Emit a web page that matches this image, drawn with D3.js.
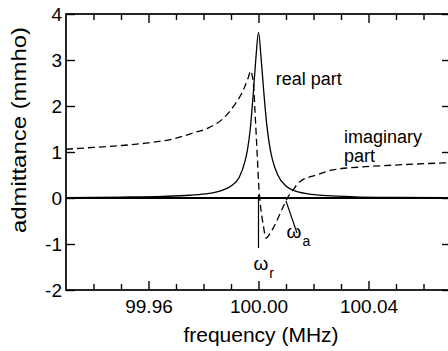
<!DOCTYPE html>
<html>
<head>
<meta charset="utf-8">
<script src="https://cdn.jsdelivr.net/npm/d3@7"></script>
<style>
  html, body { margin: 0; padding: 0; background: #fff; overflow: hidden; }
  svg text { font-family: "Liberation Sans", Arial, Helvetica, sans-serif; fill: #000; }
</style>
</head>
<body>
<div id="chart"></div>
<script>
// readings (MHz, mmho)
const freqReal = [99.930, 99.950, 99.965, 99.975, 99.982, 99.987, 99.990, 99.993, 99.995, 99.996, 99.997,
  99.998, 99.999, 100.000, 100.001, 100.002, 100.003, 100.004, 100.005, 100.007, 100.010, 100.013,
  100.018, 100.025, 100.035, 100.050, 100.070];
const realPart = [0.01, 0.02, 0.035, 0.06, 0.10, 0.17, 0.26, 0.45, 0.78, 1.05, 1.5,
  2.2, 3.0, 3.6, 3.0, 2.25, 1.6, 1.15, 0.85, 0.5, 0.26, 0.16,
  0.09, 0.05, 0.025, 0.012, 0.006];

const freqImag = [99.930, 99.940, 99.950, 99.960, 99.970, 99.976, 99.982, 99.987, 99.991, 99.9945, 99.9963,
  99.9971, 99.9982, 99.9987, 99.99945, 100.0002, 100.0009, 100.00175, 100.0027, 100.0049, 100.0089,
  100.0107, 100.0125, 100.0149, 100.0210, 100.0270, 100.0390, 100.0510, 100.0700];
const imagPart = [1.06, 1.10, 1.14, 1.20, 1.30, 1.41, 1.53, 1.72, 2.0, 2.35, 2.62,
  2.76, 2.46, 1.91, 1.04, 0.17, -0.26, -0.59, -0.87, -0.70, -0.20,
  0.02, 0.17, 0.35, 0.50, 0.61, 0.68, 0.72, 0.77];

const xMajor = [99.96, 100.00, 100.04];
const xMinor = [99.94, 99.95, 99.97, 99.98, 99.99, 100.01, 100.02, 100.03, 100.05, 100.06];
const yTicks = [-2, -1, 0, 1, 2, 3, 4];

const MARGIN = { TOP: 14, LEFT: 66 };
const WIDTH = 385;
const HEIGHT = 276;

const svg = d3.select("#chart").append("svg")
    .attr("width", 448)
    .attr("height", 351);

const g = svg.append("g")
    .attr("transform", `translate(${MARGIN.LEFT}, ${MARGIN.TOP})`);

const x = d3.scaleLinear().domain([99.93, 100.07]).range([0, WIDTH]);
const y = d3.scaleLinear().domain([-2, 4]).range([HEIGHT, 0]);

g.append("clipPath").attr("id", "plot")
  .append("rect").attr("width", WIDTH).attr("height", HEIGHT);

// axes, ticks pointing inward
function styleAxis(sel) {
  sel.select(".domain").remove();
  sel.selectAll(".tick line").attr("stroke", "#000").attr("stroke-width", 1.4);
  sel.selectAll("text").style("font-size", "19px").attr("fill", "#000");
}

g.append("g").attr("transform", `translate(0, ${HEIGHT})`)
  .call(d3.axisBottom(x).tickValues(xMajor).tickSize(-9).tickSizeOuter(0).tickPadding(10).tickFormat(d3.format(".2f")))
  .call(styleAxis);
g.append("g").attr("transform", `translate(0, ${HEIGHT})`)
  .call(d3.axisBottom(x).tickValues(xMinor).tickSize(-6).tickSizeOuter(0).tickFormat(""))
  .call(styleAxis);
g.append("g")
  .call(d3.axisTop(x).tickValues(xMajor).tickSize(-9).tickSizeOuter(0).tickFormat(""))
  .call(styleAxis);
g.append("g")
  .call(d3.axisTop(x).tickValues(xMinor).tickSize(-6).tickSizeOuter(0).tickFormat(""))
  .call(styleAxis);
g.append("g")
  .call(d3.axisLeft(y).tickValues(yTicks).tickSize(-9).tickSizeOuter(0).tickPadding(4).tickFormat(d => String(d)))
  .call(styleAxis);
g.append("g").attr("transform", `translate(${WIDTH}, 0)`)
  .call(d3.axisRight(y).tickValues(yTicks).tickSize(-9).tickSizeOuter(0).tickFormat(""))
  .call(styleAxis);

// frame
g.append("rect")
  .attr("width", WIDTH).attr("height", HEIGHT)
  .attr("fill", "none").attr("stroke", "#000").attr("stroke-width", 1.7);

// zero line
g.append("line")
  .attr("x1", 0).attr("x2", WIDTH)
  .attr("y1", y(0)).attr("y2", y(0))
  .attr("stroke", "#000").attr("stroke-width", 1.8);

const line = d3.line()
  .x(d => x(d[0]))
  .y(d => y(d[1]))
  .curve(d3.curveMonotoneX);

const plot = g.append("g").attr("clip-path", "url(#plot)");

plot.append("path")
  .datum(d3.zip(freqImag, imagPart))
  .attr("d", line)
  .attr("fill", "none").attr("stroke", "#000").attr("stroke-width", 1.3)
  .attr("stroke-dasharray", "7,4");

plot.append("path")
  .datum(d3.zip(freqReal, realPart))
  .attr("d", line)
  .attr("fill", "none").attr("stroke", "#000").attr("stroke-width", 1.3);

// omega markers
const omegaR = [[100.000, 0.07], [100.000, -1.09]];
const omegaA = [[100.0100, -0.065], [100.0140, -0.76]];
[omegaR, omegaA].forEach(pts => {
  g.append("line")
    .attr("x1", x(pts[0][0])).attr("y1", y(pts[0][1]))
    .attr("x2", x(pts[1][0])).attr("y2", y(pts[1][1]))
    .attr("stroke", "#000").attr("stroke-width", 1.2);
});

function omegaLabel(f, v, sub) {
  const t = g.append("text")
    .attr("x", x(f)).attr("y", y(v))
    .style("font-size", "19px");
  t.append("tspan").text("ω");
  t.append("tspan").attr("dy", 8).attr("dx", 1).style("font-size", "14px").text(sub);
}
omegaLabel(99.99815, -1.565, "r");
omegaLabel(100.01022, -0.87, "a");

// curve labels
g.append("text")
  .attr("x", x(100.00625)).attr("y", y(2.457))
  .style("font-size", "18px")
  .text("real part");
g.append("text")
  .attr("x", x(100.0311)).attr("y", y(1.196))
  .style("font-size", "18px")
  .text("imaginary");
g.append("text")
  .attr("x", x(100.0311)).attr("y", y(0.78))
  .style("font-size", "18px")
  .text("part");

// axis titles
svg.append("text")
  .attr("x", 261).attr("y", 342)
  .attr("text-anchor", "middle")
  .style("font-size", "21px")
  .text("frequency (MHz)");

svg.append("text")
  .attr("transform", "rotate(-90)")
  .attr("x", -130).attr("y", 26)
  .attr("text-anchor", "middle")
  .attr("textLength", 206)
  .attr("lengthAdjust", "spacingAndGlyphs")
  .style("font-size", "19.5px")
  .text("admittance (mmho)");
</script>
</body>
</html>
